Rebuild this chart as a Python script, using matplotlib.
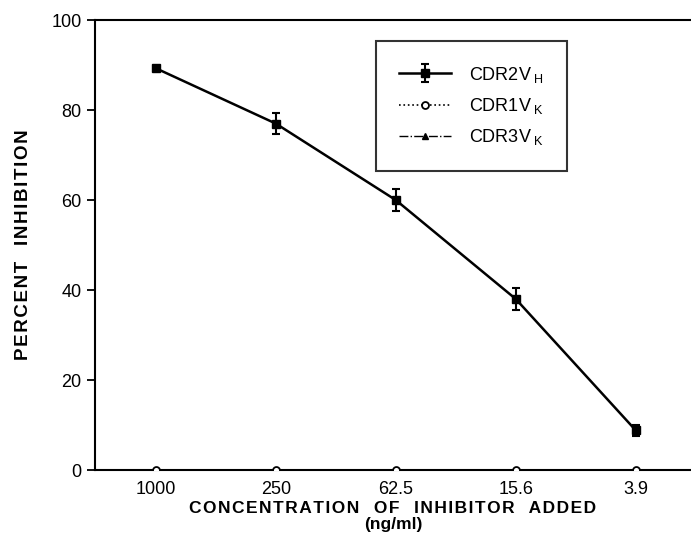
import numpy as np
import matplotlib.pyplot as plt

plt.rcParams['font.family'] = ['Liberation Sans', 'DejaVu Sans']
plt.rcParams['mathtext.fontset'] = 'custom'
plt.rcParams['mathtext.rm'] = 'Liberation Sans'

# datos
conc = ["1000", "250", "62.5", "15.6", "3.9"]
cdr2vh = [89.3, 77, 60, 38, 8.8]
cdr2vh_err = [0.4, 2.3, 2.5, 2.5, 1.2]
cdr1vk = [0, 0, 0, 0, 0]
cdr3vk = [0, 0, 0, 0, 0]

x = np.arange(len(conc))


def espaciado(texto):
    # letras separadas con un espacio fino para imitar el espaciado del original
    return "\u200a".join(texto)


fig = plt.figure(figsize=(6.91, 5.44), dpi=100)
ax = fig.add_axes([0.137, 0.136, 0.863, 0.827])

ax.plot(x, cdr3vk, color="black", linestyle="-.", linewidth=1, marker="^",
        markersize=5, label="CDR3V$\\,_{\\mathrm{K}}$", zorder=2)
ax.plot(x, cdr1vk, color="black", linestyle=":", linewidth=1.2, marker="o",
        markersize=5, markerfacecolor="white", markeredgewidth=1.3,
        label="CDR1V$\\,_{\\mathrm{K}}$", zorder=3)
ax.errorbar(x, cdr2vh, yerr=cdr2vh_err, color="black", linewidth=1.8, marker="s",
            markersize=6, capsize=3, elinewidth=1.5, capthick=1.5,
            label="CDR2V$\\,_{\\mathrm{H}}$", zorder=4)

ax.set_xlim(-0.51, 4.46)
ax.set_ylim(0, 100)
ax.set_xticks(x)
ax.set_xticklabels(conc)
ax.set_yticks([0, 20, 40, 60, 80, 100])
ax.tick_params(axis="y", direction="out", length=6, width=1.3, labelsize=13)
ax.tick_params(axis="x", length=0, labelsize=13, pad=8)
ax.spines["right"].set_visible(False)
for s in ["left", "top", "bottom"]:
    ax.spines[s].set_linewidth(1.5)

ax.set_ylabel(espaciado("PERCENT") + "   " + espaciado("INHIBITION"),
              fontsize=13.5, fontweight="bold", labelpad=14)
ax.set_xlabel(espaciado("CONCENTRATION") + "   " + espaciado("OF") + "   "
              + espaciado("INHIBITOR") + "   " + espaciado("ADDED") + "\n(ng/ml)",
              fontsize=12.5, fontweight="bold", labelpad=2, linespacing=1.05)

h, l = ax.get_legend_handles_labels()
leg = ax.legend(h[::-1], l[::-1], loc="upper left", bbox_to_anchor=(0.471, 0.953),
                borderaxespad=0, fontsize=13, frameon=True, fancybox=False,
                edgecolor="black", borderpad=1.3, handlelength=2.9,
                labelspacing=0.62, handletextpad=1.0)
leg.get_frame().set_linewidth(1.5)

fig.savefig("out.png", dpi=100)
